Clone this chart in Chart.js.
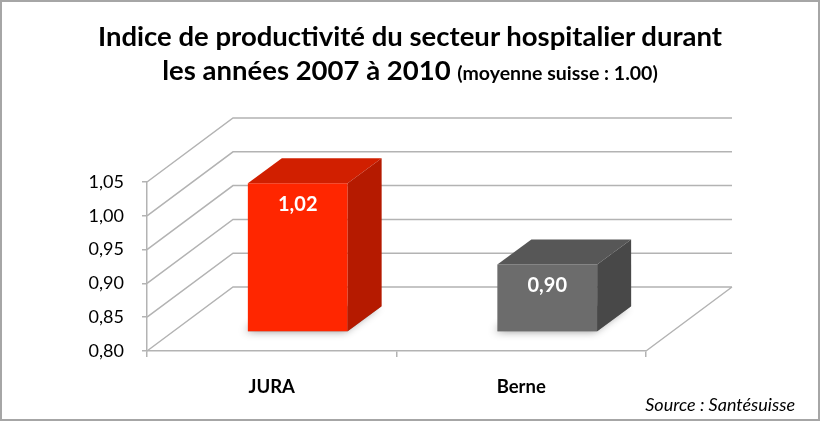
<!DOCTYPE html>
<html lang="fr">
<head>
    <meta charset="UTF-8">
    <title>Indice de productivité du secteur hospitalier</title>
    <script src="https://cdn.jsdelivr.net/npm/chart.js"></script>
    <style>
        body {
            margin: 0;
            font-family: Lato, sans-serif;
            background: #fff;
        }
        #frame {
            position: relative;
            width: 820px;
            height: 423px;
            overflow: hidden;
        }
        #border {
            position: absolute;
            left: 0; top: 0;
            width: 820px; height: 421px;
            box-sizing: border-box;
            border: 2px solid #a6a6a6;
            pointer-events: none;
        }
        #title {
            position: absolute;
            top: 19px;
            left: 0;
            width: 820px;
            text-align: center;
            font-weight: bold;
            font-size: 27.5px;
            line-height: 34px;
            color: #000;
        }
        #title small {
            font-size: 19.5px;
        }
        #source {
            position: absolute;
            right: 25px;
            top: 393px;
            font-style: italic;
            font-size: 18px;
            color: #000;
        }
        canvas {
            position: absolute;
            left: 0; top: 0;
        }
    </style>
</head>
<body>
    <div id="frame">
        <canvas id="prodChart" width="820" height="423"></canvas>
        <div id="title">Indice de productivité du secteur hospitalier durant<br>les années 2007 à 2010 <small>(moyenne suisse : 1.00)</small></div>
        <div id="source">Source : Santésuisse</div>
        <div id="border"></div>
    </div>

    <script>
        // Données
        const categories = ['JURA', 'Berne'];
        const values = [1.02, 0.90];
        const valueLabels = ['1,02', '0,90'];
        const yTickValues = [0.80, 0.85, 0.90, 0.95, 1.00, 1.05];
        const yTickLabels = ['0,80', '0,85', '0,90', '0,95', '1,00', '1,05'];

        const frontColors = ['#ff2600', '#6c6c6c'];
        const topColors = ['#d11f00', '#575757'];
        const sideColors = ['#b51a00', '#484848'];

        const gridColor = '#b3b3b3';
        const WALL_DX = 86, WALL_DY = -64;   // profondeur du mur arrière
        const BAR_DX = 26, BAR_DY = -19;     // position des barres en profondeur
        const DEPTH_DX = 34, DEPTH_DY = -25; // épaisseur des barres

        const threeD = {
            id: 'threeD',
            beforeDatasetsDraw(chart) {
                const { ctx, chartArea: a, scales: { y } } = chart;
                ctx.save();
                ctx.strokeStyle = gridColor;
                ctx.lineWidth = 1.5;
                ctx.beginPath();
                yTickValues.forEach(v => {
                    const py = y.getPixelForValue(v);
                    ctx.moveTo(a.left, py);
                    ctx.lineTo(a.left + WALL_DX, py + WALL_DY);
                    ctx.lineTo(a.right + WALL_DX, py + WALL_DY);
                });
                ctx.moveTo(a.right, a.bottom);
                ctx.lineTo(a.right + WALL_DX, a.bottom + WALL_DY);
                ctx.stroke();
                ctx.restore();

                ctx.save();
                ctx.translate(BAR_DX, BAR_DY);
                // ombre au sol
                const meta = chart.getDatasetMeta(0);
                meta.data.forEach(bar => {
                    const p = bar.getProps(['x', 'base', 'width'], true);
                    const l = p.x - p.width / 2, r = p.x + p.width / 2;
                    ctx.save();
                    ctx.shadowColor = 'rgba(0,0,0,0.45)';
                    ctx.shadowBlur = 9;
                    ctx.shadowOffsetX = -3;
                    ctx.fillStyle = '#888';
                    ctx.beginPath();
                    ctx.moveTo(l, p.base);
                    ctx.lineTo(r, p.base);
                    ctx.lineTo(r + DEPTH_DX, p.base + DEPTH_DY);
                    ctx.lineTo(l + DEPTH_DX, p.base + DEPTH_DY);
                    ctx.closePath();
                    ctx.fill();
                    ctx.restore();
                });
            },
            afterDatasetsDraw(chart) {
                const { ctx } = chart;
                const meta = chart.getDatasetMeta(0);
                meta.data.forEach((bar, i) => {
                    const p = bar.getProps(['x', 'y', 'base', 'width'], true);
                    const l = p.x - p.width / 2, r = p.x + p.width / 2;
                    // dessus
                    ctx.fillStyle = topColors[i];
                    ctx.beginPath();
                    ctx.moveTo(l, p.y);
                    ctx.lineTo(r, p.y);
                    ctx.lineTo(r + DEPTH_DX, p.y + DEPTH_DY);
                    ctx.lineTo(l + DEPTH_DX, p.y + DEPTH_DY);
                    ctx.closePath();
                    ctx.fill();
                    // côté
                    ctx.fillStyle = sideColors[i];
                    ctx.beginPath();
                    ctx.moveTo(r, p.y);
                    ctx.lineTo(r + DEPTH_DX, p.y + DEPTH_DY);
                    ctx.lineTo(r + DEPTH_DX, p.base + DEPTH_DY);
                    ctx.lineTo(r, p.base);
                    ctx.closePath();
                    ctx.fill();
                    // étiquette
                    ctx.fillStyle = '#fff';
                    ctx.font = 'bold 20px Lato';
                    ctx.textAlign = 'center';
                    ctx.textBaseline = 'middle';
                    ctx.fillText(valueLabels[i], p.x, p.y + 21);
                });
                ctx.restore();
            }
        };

        new Chart(document.getElementById('prodChart'), {
            type: 'bar',
            data: {
                labels: categories,
                datasets: [{
                    data: values,
                    base: yTickValues[0],
                    backgroundColor: frontColors,
                    borderWidth: 0,
                    barPercentage: 0.4,
                    categoryPercentage: 1,
                    clip: false
                }]
            },
            options: {
                responsive: false,
                animation: false,
                layout: { padding: { left: 0, right: 174, top: 182, bottom: 0 } },
                plugins: {
                    legend: { display: false },
                    tooltip: { enabled: false }
                },
                scales: {
                    y: {
                        min: 0.80,
                        max: 1.05,
                        afterFit: s => { s.width = 147; },
                        afterBuildTicks: s => { s.ticks = yTickValues.map(v => ({ value: v })); },
                        ticks: {
                            callback: (v, i) => yTickLabels[i],
                            font: { family: 'Lato', size: 18 },
                            color: '#000',
                            padding: 18
                        },
                        grid: { drawOnChartArea: false, tickLength: 5, color: gridColor, lineWidth: 1.5 },
                        border: { color: gridColor, width: 1.5 }
                    },
                    x: {
                        afterFit: s => { s.height = 72; },
                        ticks: {
                            font: { family: 'Lato', size: 18.5, weight: 'bold' },
                            color: '#000',
                            padding: 19
                        },
                        grid: { offset: true, drawOnChartArea: false, tickLength: 6, color: gridColor, lineWidth: 1.5 },
                        border: { color: gridColor, width: 1.5 }
                    }
                }
            },
            plugins: [threeD]
        });
    </script>
</body>
</html>
